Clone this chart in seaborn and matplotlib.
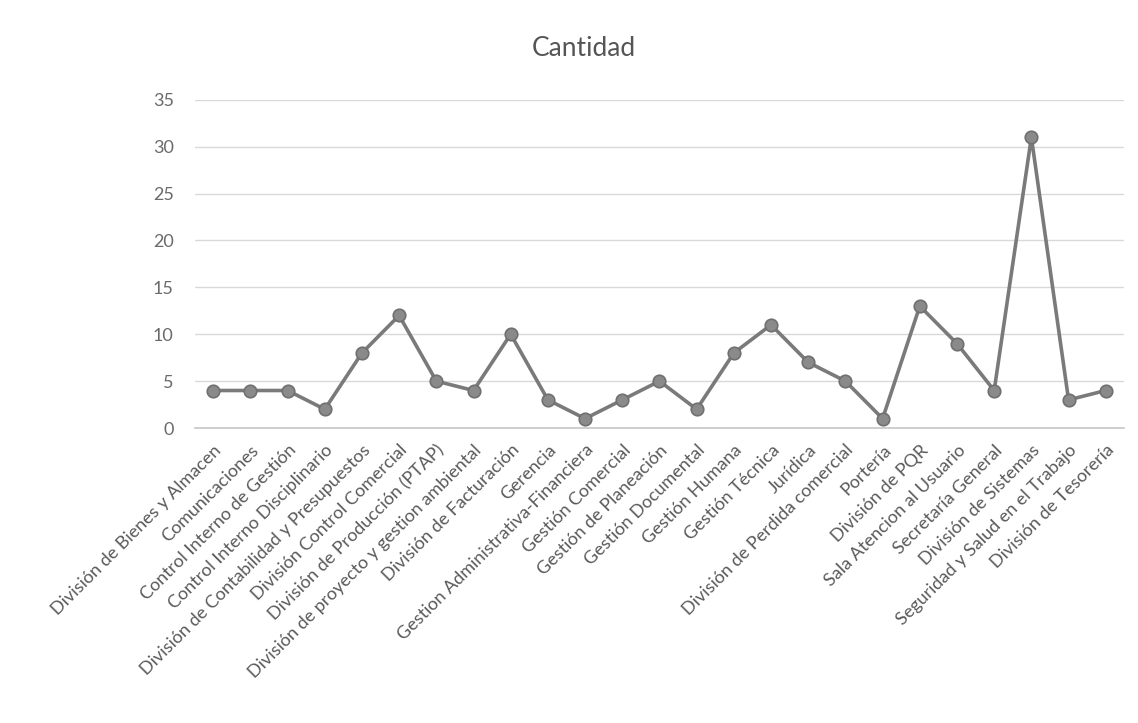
import matplotlib
matplotlib.use("Agg")
import matplotlib.pyplot as plt
import seaborn as sns
import pandas as pd

categories = [
    "División de Bienes y Almacen",
    "Comunicaciones",
    "Control Interno de Gestión",
    "Control Interno Disciplinario",
    "División de Contabilidad y Presupuestos",
    "División Control Comercial",
    "División de Producción (PTAP)",
    "División de proyecto y gestion ambiental",
    "División de Facturación",
    "Gerencia",
    "Gestion Administrativa-Financiera",
    "Gestión Comercial",
    "Gestión de Planeación",
    "Gestión Documental",
    "Gestión Humana",
    "Gestión Técnica",
    "Jurídica",
    "División de Perdida comercial",
    "Portería",
    "División de PQR",
    "Sala Atencion al Usuario",
    "Secretaría General",
    "División de Sistemas",
    "Seguridad y Salud en el Trabajo",
    "División de Tesorería",
]
cantidad = [4, 4, 4, 2, 8, 12, 5, 4, 10, 3, 1, 3, 5, 2, 8, 11, 7, 5, 1, 13, 9, 4, 31, 3, 4]
y_ticks = [0, 5, 10, 15, 20, 25, 30, 35]

sns.set_theme(style="white")
plt.rcParams["font.family"] = ["Lato", "DejaVu Sans"]

df = pd.DataFrame({"Departamento": categories, "Cantidad": cantidad})
df["pos"] = range(len(df))

fig = plt.figure(figsize=(11.38, 7.23), dpi=100)
ax = fig.add_axes([0.171, 0.408, 0.817, 0.454])

sns.lineplot(data=df, x="pos", y="Cantidad", ax=ax, sort=False,
             color="#7a7a7a", linewidth=2.6, marker="o", markersize=9,
             markerfacecolor="#8a8a8a", markeredgecolor="#707070", markeredgewidth=1.2)

ax.set_xlim(-0.5, len(categories) - 0.5)
ax.set_ylim(0, 35)
ax.set_yticks(y_ticks)
ax.set_yticklabels([str(t) for t in y_ticks], color="#6a6a6a", fontsize=13)
ax.set_xticks(range(len(categories)))
ax.set_xticklabels(categories, rotation=45, ha="right", rotation_mode="anchor",
                   color="#5a5a5a", fontsize=13)
ax.tick_params(axis="both", length=0)
ax.tick_params(axis="x", pad=10)
ax.tick_params(axis="y", pad=15)
ax.grid(axis="y", color="#d9d9d9", linewidth=1)
ax.grid(axis="x", visible=False)
for s in ["top", "right", "left"]:
    ax.spines[s].set_visible(False)
ax.spines["bottom"].set_color("#c8c8c8")
ax.set_xlabel("")
ax.set_ylabel("")

fig.text(0.513, 0.933, "Cantidad", ha="center", va="center", fontsize=19, color="#555555")

fig.savefig("out.png", dpi=100, facecolor="white")
